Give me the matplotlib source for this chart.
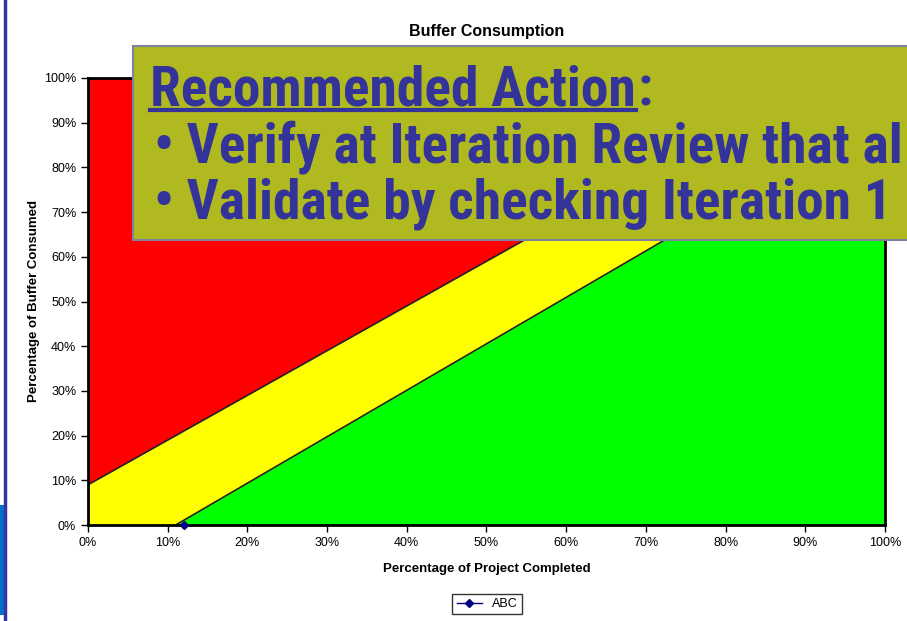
import matplotlib
matplotlib.use("Agg")
import matplotlib.pyplot as plt
from matplotlib import font_manager
from matplotlib.font_manager import FontProperties
from matplotlib.patches import Rectangle
from matplotlib.lines import Line2D
from matplotlib.ticker import PercentFormatter

# zone boundaries (percent of project completed -> percent of buffer consumed)
red_x = [0, 91, 100]
red_y = [9, 100, 100]
green_x = [0, 11, 100]
green_y = [0, 0, 92.5]

# the single project point
abc_x = [12]
abc_y = [0]

x_ticks = list(range(0, 101, 10))
y_ticks = list(range(0, 101, 10))

title = "Buffer Consumption"
x_label = "Percentage of Project Completed"
y_label = "Percentage of Buffer Consumed"
action_head = "Recommended Action"
action_lines = ["\u2022 Verify at Iteration Review that al",
                "\u2022 Validate by checking Iteration 1"]

names = {f.name for f in font_manager.fontManager.ttflist}
base = "Liberation Sans" if "Liberation Sans" in names else "DejaVu Sans"
plt.rcParams["font.family"] = base

# look for a condensed bold face for the callout text
narrow_file = None
for key in ["LiberationSansNarrow-Bold.", "RobotoCondensed-Bold", "OpenSansCondensed-Bold",
            "OpenSans_Condensed-Bold", "DejaVuSansCondensed-Bold."]:
    hits = [f.fname for f in font_manager.fontManager.ttflist if key in f.fname]
    if hits:
        narrow_file = hits[0]
        break
if narrow_file:
    big_fp = FontProperties(fname=narrow_file, size=40)
else:
    big_fp = FontProperties(family=base, weight="bold", size=34)
scale = {"LiberationSansNarrow-Bold.": 1.0}

fig = plt.figure(figsize=(9.07, 6.21), dpi=100)
ax = fig.add_axes([88/907, 96/621, 797/907, 447/621])

ax.fill_between(red_x, red_y, 100, color="#ff0000", lw=0)
ax.fill_between(red_x, 0, red_y, color="#ffff00", lw=0)
ax.fill_between(green_x, 0, green_y, color="#00ff00", lw=0)
ax.plot(red_x[:2], red_y[:2], color="#222222", lw=1.2)
ax.plot(green_x[1:], green_y[1:], color="#222222", lw=1.2)
ax.plot(abc_x, abc_y, color="#000080", marker="D", ms=4, lw=1, clip_on=False, zorder=5)

ax.set_xlim(0, 100)
ax.set_ylim(0, 100)
ax.set_xticks(x_ticks)
ax.set_yticks(y_ticks)
ax.xaxis.set_major_formatter(PercentFormatter(decimals=0))
ax.yaxis.set_major_formatter(PercentFormatter(decimals=0))
ax.tick_params(direction="out", length=5, width=1, labelsize=9, color="black")
for s in ax.spines.values():
    s.set_linewidth(2)
    s.set_color("black")

ax.set_title(title, fontsize=11.5, fontweight="bold", pad=30)
ax.set_xlabel(x_label, fontsize=9.5, fontweight="bold", labelpad=10)
ax.set_ylabel(y_label, fontsize=9.5, fontweight="bold", labelpad=3)

leg = ax.legend(handles=[Line2D([0], [0], color="#000080", marker="D", ms=4, lw=1)],
                labels=["ABC"], loc="center", bbox_to_anchor=(487/907, 17/621),
                bbox_transform=fig.transFigure, fontsize=9, frameon=True,
                fancybox=False, handlelength=2.0, borderpad=0.35)
leg.get_frame().set_edgecolor("black")
leg.get_frame().set_linewidth(1)

# slide decorations on left edge
fig.add_artist(Line2D([5/907, 5/907], [0, 1], color="#3333aa", lw=2.5))
fig.add_artist(Rectangle((0, 6/621), 4/907, 110/621, color="#0070c0", lw=0))

# overlay callout box
fig.add_artist(Rectangle((133/907, (621-240)/621), 800/907, 194/621,
                         facecolor="#b0ba20", edgecolor="#8080a0", lw=1.5, zorder=10))
txt_color = "#333399"
head = fig.text(150/907, 1 - 105/621, action_head, fontproperties=big_fp,
                color=txt_color, zorder=11, va="baseline")
fig.canvas.draw()
bb = head.get_window_extent(fig.canvas.get_renderer())
x0, x1 = bb.x0 / 907, bb.x1 / 907
fig.add_artist(Line2D([x0, x1], [1 - 110/621, 1 - 110/621], color=txt_color, lw=3, zorder=11))
fig.text(x1 + 2/907, 1 - 105/621, ":", fontproperties=big_fp,
         color=txt_color, zorder=11, va="baseline")
for i, line in enumerate(action_lines):
    fig.text(154/907, 1 - (162 + 56*i)/621, line, fontproperties=big_fp,
             color=txt_color, zorder=11, va="baseline")

fig.savefig("out.png", dpi=100)
